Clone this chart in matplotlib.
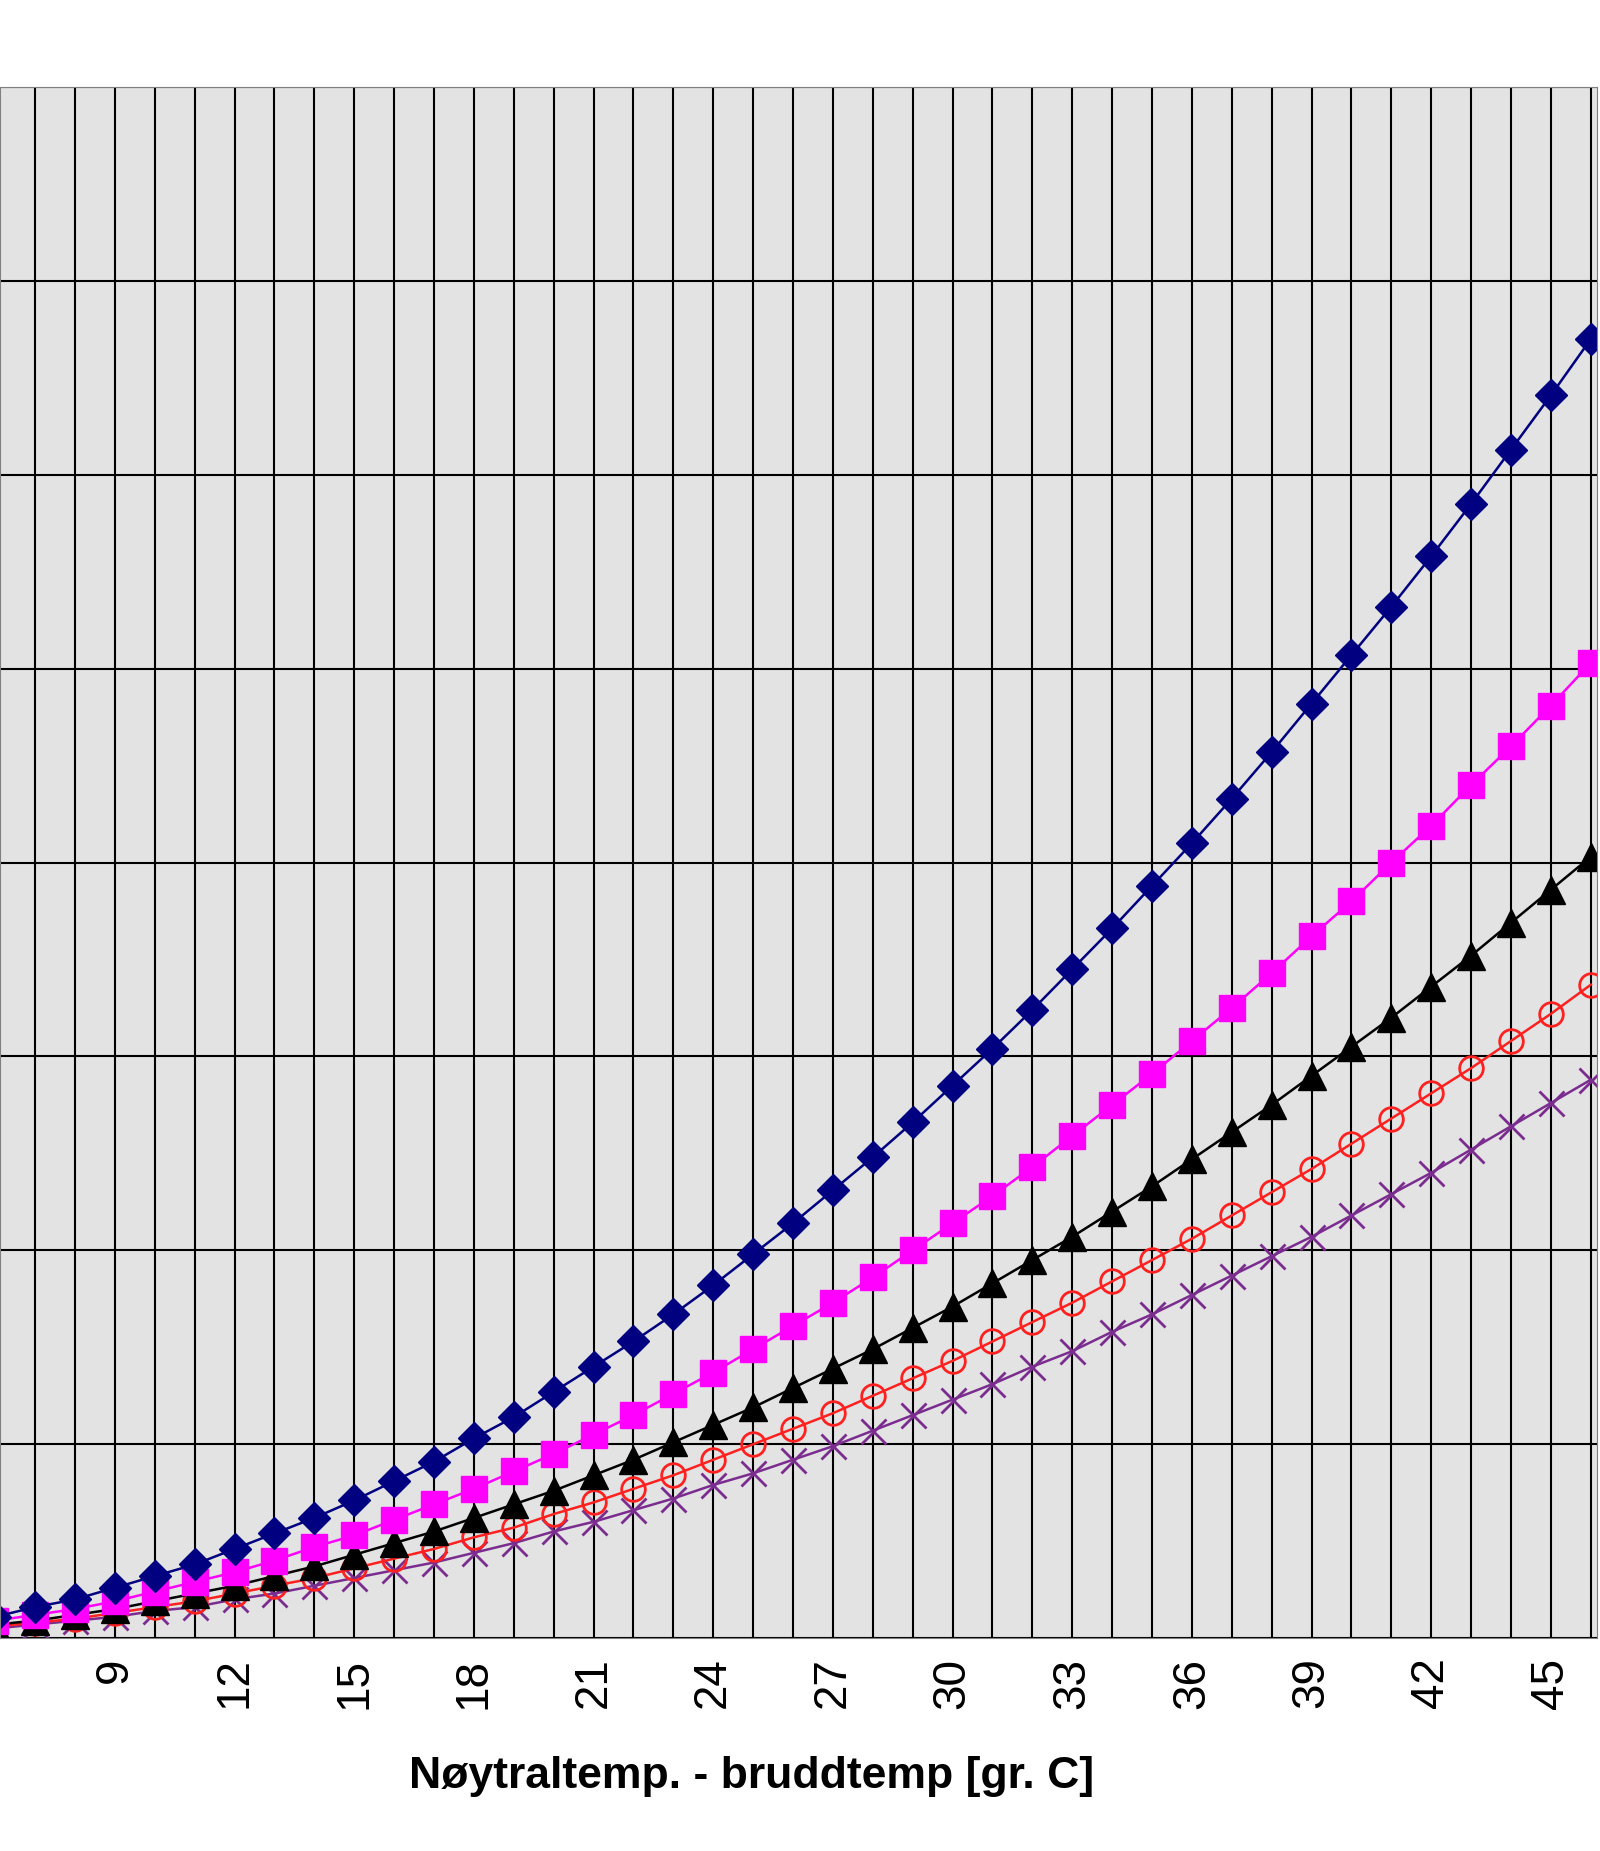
import numpy as np
import matplotlib
matplotlib.use("Agg")
import matplotlib.pyplot as plt

x = list(range(6, 47))

blue = [0.11, 0.16, 0.20, 0.26, 0.32, 0.38, 0.46, 0.54, 0.62, 0.71, 0.81, 0.91, 1.03, 1.14,
        1.27, 1.40, 1.53, 1.67, 1.82, 1.98, 2.14, 2.31, 2.48, 2.66, 2.85, 3.04, 3.24, 3.45,
        3.66, 3.88, 4.10, 4.33, 4.57, 4.82, 5.07, 5.32, 5.58, 5.85, 6.13, 6.41, 6.70]
magenta = [0.09, 0.12, 0.15, 0.19, 0.24, 0.29, 0.34, 0.40, 0.47, 0.53, 0.61, 0.69, 0.77, 0.86,
           0.95, 1.05, 1.15, 1.26, 1.37, 1.49, 1.61, 1.73, 1.86, 2.00, 2.14, 2.28, 2.43, 2.59,
           2.75, 2.91, 3.08, 3.25, 3.43, 3.62, 3.80, 4.00, 4.19, 4.40, 4.60, 4.81, 5.03]
black = [0.07, 0.09, 0.12, 0.15, 0.19, 0.23, 0.27, 0.32, 0.37, 0.43, 0.49, 0.55, 0.62, 0.69,
         0.76, 0.84, 0.92, 1.01, 1.10, 1.19, 1.29, 1.39, 1.49, 1.60, 1.71, 1.83, 1.95, 2.07,
         2.20, 2.33, 2.47, 2.61, 2.75, 2.90, 3.05, 3.20, 3.36, 3.52, 3.69, 3.86, 4.03]
red = [0.06, 0.08, 0.10, 0.13, 0.16, 0.19, 0.23, 0.27, 0.31, 0.36, 0.41, 0.46, 0.52, 0.57,
       0.64, 0.70, 0.77, 0.84, 0.92, 1.00, 1.08, 1.16, 1.25, 1.34, 1.43, 1.53, 1.63, 1.73,
       1.84, 1.95, 2.06, 2.18, 2.30, 2.42, 2.55, 2.68, 2.81, 2.94, 3.08, 3.22, 3.37]
purple = [0.05, 0.07, 0.09, 0.11, 0.14, 0.16, 0.20, 0.23, 0.27, 0.31, 0.35, 0.39, 0.44, 0.49,
          0.55, 0.60, 0.66, 0.72, 0.79, 0.85, 0.92, 0.99, 1.07, 1.15, 1.23, 1.31, 1.40, 1.48,
          1.58, 1.67, 1.77, 1.87, 1.97, 2.07, 2.18, 2.29, 2.40, 2.52, 2.64, 2.76, 2.88]

fig = plt.figure(figsize=(16, 18.51), dpi=100)
ax = fig.add_axes([0.0, 0.115, 0.998, 0.838])
ax.set_facecolor("#e3e3e3")

ax.plot(x, purple, color="#7b2c8f", marker="x", ms=18, mew=2, lw=1.8)
ax.plot(x, red, color="#ff2020", marker="o", ms=17, mfc="none", mew=2, lw=1.8)
ax.plot(x, black, color="black", marker="^", ms=20, lw=1.8)
ax.plot(x, magenta, color="#ff00ff", marker="s", ms=19, lw=1.8)
ax.plot(x, blue, color="#000080", marker="D", ms=16, lw=1.8)

ax.set_xticks(range(9, 48, 3))
ax.set_xticks(range(6, 48), minor=True)
ax.set_yticks(range(0, 9))
ax.set_yticklabels([])
ax.set_xlim(6.12, 46.15)
ax.set_ylim(0, 8)
ax.grid(True, which="both", axis="x", color="black", lw=1.5)
ax.grid(True, which="major", axis="y", color="black", lw=1.5)
ax.set_axisbelow(True)
ax.tick_params(axis="x", which="both", length=0, labelsize=33, labelrotation=90, pad=14)
for lab in ax.get_xticklabels():
    lab.set_family("Liberation Sans")
ax.tick_params(axis="y", length=0)
for s in ax.spines.values():
    s.set_color("#808080")

fig.text(0.47, 0.04, "Nøytraltemp. - bruddtemp [gr. C]", ha="center", va="center",
         fontsize=32, fontweight="bold", family="Liberation Sans")

fig.savefig("out.png", dpi=100)
